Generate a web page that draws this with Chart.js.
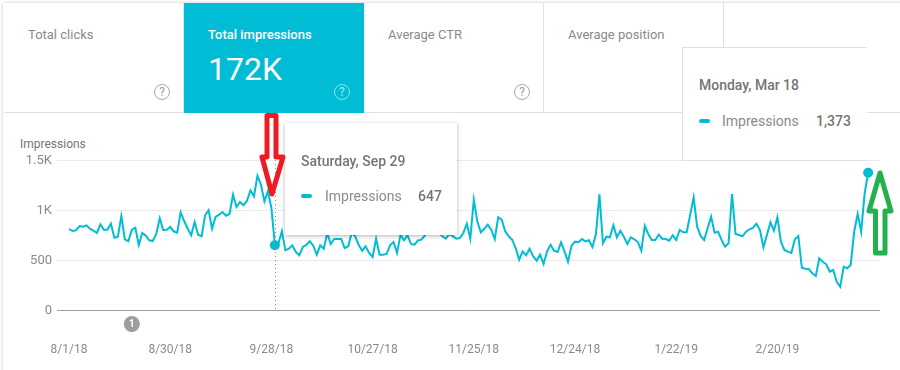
<!DOCTYPE html>
<html>
<head>
<meta charset="utf-8">
<title>Impressions</title>
<script src="https://cdn.jsdelivr.net/npm/chart.js@4/dist/chart.umd.min.js"></script>
<style>
    html, body { margin: 0; padding: 0; background: #fff; }
    #page { position: relative; width: 900px; height: 370px; overflow: hidden; font-family: Roboto, sans-serif; color: #8a8a8a; font-size: 13px; }
    #page div { position: absolute; white-space: nowrap; }
    #shadow { left: 3px; top: 3px; width: 900px; height: 400px; box-shadow: 0 0 3px rgba(0, 0, 0, .25); }
    .tab { top: 3px; width: 179px; height: 109px; background: #fff; border-right: 1px solid #e0e0e0; border-bottom: 1px solid #e0e0e0; }
    #page .tab div { left: 24px; top: 24px; }
    #page .tab .help { left: 150px; top: 81px; width: 14px; height: 14px; line-height: 14px; border: 1.5px solid #a6a6a6; border-radius: 50%; text-align: center; font-size: 12px; color: #9e9e9e; }
    #tab_active { background: #00bcd4; color: #fff; border: 0; height: 110px; width: 180px; }
    #page #tab_active div { font-weight: 500; }
    #page #tab_active .big { top: 47px; font-size: 32px; font-weight: 400; }
    #page #tab_active .help { left: 150px; color: rgba(255, 255, 255, .55); border-color: rgba(255, 255, 255, .55); }
    #tab_rest { left: 724px; top: 3px; width: 176px; height: 109px; border-bottom: 1px solid #e0e0e0; background: #fff; }
    #axis_title { left: 20px; top: 137px; font-size: 12px; color: #757575; }
    #chart_box { left: 0; top: 113px; width: 900px; height: 257px; }
    .tip { background: #fff; }
    #tip_sep { left: 285px; top: 123px; width: 172px; height: 112px; box-shadow: 0 1px 4px rgba(0, 0, 0, .3); }
    #tip_mar { left: 682px; top: 47px; width: 184px; height: 112px; border-left: 1px solid #e0e0e0; border-top: 1px solid #e0e0e0; border-bottom: 1px solid #e0e0e0; }
    #page .tip .date { top: 30px; font-weight: 500; color: #757575; font-size: 14px; }
    #page #tip_mar .date { top: 29px; }
    #page .tip .swatch { width: 11px; height: 4px; border-radius: 2px; background: #00bcd4; top: 71px; }
    #page .tip .name { top: 65px; font-size: 14px; }
    #page .tip .num { top: 65px; font-weight: 500; color: #757575; font-size: 14px; }
    #arrows { position: absolute; left: 0; top: 0; }
</style>
</head>
<body>
<div id="page">
    <div id="shadow"></div>
    <div class="tab" style="left:4px"><div>Total clicks</div><div class="help">?</div></div>
    <div class="tab" id="tab_active" style="left:184px"><div>Total impressions</div><div class="big">172K</div><div class="help">?</div></div>
    <div class="tab" style="left:364px"><div>Average CTR</div><div class="help">?</div></div>
    <div class="tab" style="left:544px"><div>Average position</div></div>
    <div id="tab_rest"></div>
    <div id="axis_title">Impressions</div>
    <div id="chart_box"><canvas id="chart"></canvas></div>
    <div class="tip" id="tip_sep">
        <div class="date" style="left:16px">Saturday, Sep 29</div>
        <div class="swatch" style="left:16px"></div>
        <div class="name" style="left:40px">Impressions</div>
        <div class="num" style="left:133px">647</div>
    </div>
    <div class="tip" id="tip_mar">
        <div class="date" style="left:16px">Monday, Mar 18</div>
        <div class="swatch" style="left:16px"></div>
        <div class="name" style="left:39px">Impressions</div>
        <div class="num" style="left:133px">1,373</div>
    </div>
    <svg id="arrows" width="900" height="370" fill="none" stroke-width="5" stroke-linejoin="round">
        <path stroke="#ed1c24" d="M267 115.5 H276 V157 H283 L272 194 L262 157 H267 Z"/>
        <path stroke="#22b14c" d="M880 173 L891 211 H885 V253 H875.5 V211 H869 Z"/>
    </svg>
</div>
<script>
// daily impressions, 8/1/18 to 3/18/19
const impressions = [
    810, 790, 797, 840, 833, 847, 813, 793, 770, 857, 803, 803, 863, 723, 733, 940, 707, 687, 803, 823,
    650, 770, 743, 697, 690, 760, 917, 800, 803, 830, 787, 773, 977, 890, 815, 747, 880, 753, 737, 947,
    997, 813, 930, 953, 980, 943, 960, 1153, 1030, 1080, 1047, 1093, 1197, 1137, 1343, 1253, 1087, 1187, 1020, 647,
    665, 787, 597, 613, 647, 580, 547, 630, 650, 687, 643, 553, 647, 613, 770, 660, 710, 710, 710, 620,
    637, 770, 737, 653, 593, 637, 570, 530, 713, 553, 553, 560, 647, 680, 570, 753, 697, 747, 660, 653,
    697, 703, 747, 800, 790, 780, 770, 737, 713, 760, 737, 713, 720, 770, 863, 713, 1103, 887, 777, 813,
    853, 803, 710, 927, 903, 787, 737, 703, 620, 503, 587, 547, 613, 537, 493, 553, 460, 587, 653, 593,
    580, 677, 583, 483, 643, 683, 677, 710, 687, 697, 630, 760, 1157, 667, 733, 727, 847, 727, 793, 733,
    660, 727, 707, 680, 593, 840, 760, 700, 700, 753, 713, 710, 693, 747, 700, 800, 777, 777, 950, 1127,
    833, 740, 700, 817, 933, 773, 783, 700, 633, 667, 1160, 760, 750, 737, 783, 807, 820, 863, 800, 627,
    750, 877, 793, 927, 683, 600, 583, 570, 707, 740, 423, 413, 410, 367, 340, 517, 483, 457, 383, 400,
    283, 233, 433, 417, 450, 783, 960, 783, 1167, 1373
];
const tick_days = [0, 29, 58, 87, 116, 145, 174, 203];
const tick_labels = ["8/1/18", "8/30/18", "9/28/18", "10/27/18", "11/25/18", "12/24/18", "1/22/19", "2/20/19"];
const y_ticks = [0, 500, 1000, 1500];
const y_labels = ["0", "500", "1K", "1.5K"];
const hovered_days = [59, 229];
const note_day = 18;
const note_text = "1";

const line_color = "#00bcd4";

// hover guide and the annotation badge, both placed through the scales
const overlayPlugin = {
    id: "overlay",
    afterDatasetsDraw(chart) {
        const { ctx, scales: { x, y } } = chart;
        const guide_x = Math.round(x.getPixelForValue(hovered_days[0])) + 0.5;
        ctx.save();
        ctx.strokeStyle = "#8a8a8a";
        ctx.setLineDash([1, 3]);
        ctx.beginPath();
        ctx.moveTo(guide_x, y.getPixelForValue(1500));
        ctx.lineTo(guide_x, y.getPixelForValue(0));
        ctx.stroke();
        ctx.setLineDash([]);
        const bx = x.getPixelForValue(note_day);
        const by = y.getPixelForValue(0) + 14;
        ctx.fillStyle = "#9e9e9e";
        ctx.beginPath();
        ctx.arc(bx, by, 8, 0, Math.PI * 2);
        ctx.fill();
        ctx.fillStyle = "#fff";
        ctx.font = "bold 10px Roboto";
        ctx.textAlign = "center";
        ctx.textBaseline = "middle";
        ctx.fillText(note_text, bx, by);
        ctx.restore();
    }
};

new Chart("chart", {
    type: "line",
    data: {
        datasets: [{
            data: impressions.map((v, i) => ({ x: i, y: v })),
            borderColor: line_color,
            backgroundColor: line_color,
            borderWidth: 2,
            tension: 0,
            pointRadius: ctx => hovered_days.includes(ctx.dataIndex) ? 4 : 0
        }]
    },
    options: {
        responsive: true,
        maintainAspectRatio: false,
        animation: false,
        layout: { padding: { top: 47, right: 20, left: 0, bottom: 0 } },
        plugins: { legend: { display: false }, tooltip: { enabled: false } },
        scales: {
            x: {
                type: "linear",
                min: -3.44,
                max: 232.4,
                afterBuildTicks: axis => { axis.ticks = tick_days.map(d => ({ value: d })); },
                afterFit: axis => { axis.height = 60; },
                grid: { display: false },
                border: { display: false },
                ticks: {
                    autoSkip: false,
                    maxRotation: 0,
                    padding: 25,
                    color: "#8a8a8a",
                    font: { family: "Roboto", size: 12 },
                    callback: v => tick_labels[tick_days.indexOf(v)]
                }
            },
            y: {
                min: 0,
                max: 1500,
                afterBuildTicks: axis => { axis.ticks = y_ticks.map(v => ({ value: v })); },
                afterFit: axis => { axis.width = 57; },
                grid: {
                    drawTicks: false,
                    color: ctx => ctx.tick.value === 0 ? "#9e9e9e" : "#ebebeb"
                },
                border: { display: false },
                ticks: {
                    padding: 5,
                    labelOffset: 1,
                    color: "#8a8a8a",
                    font: { family: "Roboto", size: 13 },
                    callback: v => y_labels[y_ticks.indexOf(v)]
                }
            }
        }
    },
    plugins: [overlayPlugin]
});
</script>
</body>
</html>
